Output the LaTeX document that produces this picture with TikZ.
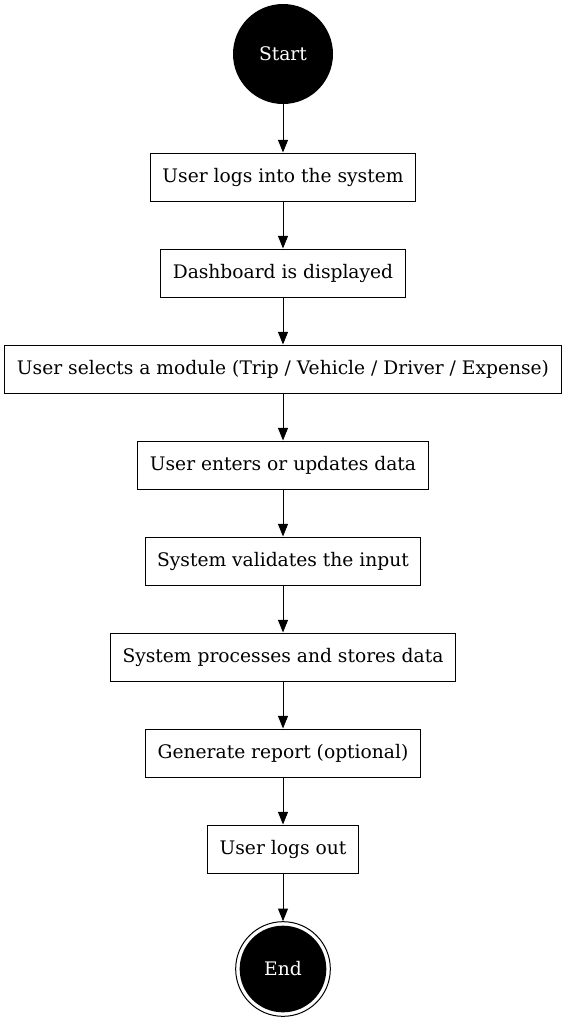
\documentclass[tikz,border=0pt]{standalone}
\usepackage{fontspec}
\setmainfont{DejaVu Serif}
\usetikzlibrary{arrows.meta}
\begin{document}
\begin{tikzpicture}[x=0.75pt, y=-0.75pt, >={Triangle[length=9.5pt,width=7.5pt]},
  stepbox/.style={draw, line width=0.75pt, minimum height=36pt, inner xsep=9pt,
    font=\fontsize{14}{16}\selectfont},
  terminal/.style={circle, fill=black, text=white, inner sep=0pt,
    font=\fontsize{14}{16}\selectfont}]
  \useasboundingbox (0,0) rectangle (567,1022);
  % Start and the steps.
  \node[terminal, minimum size=75pt] (start) at (283,54) {Start};
  \node[stepbox] (login) at (283,177) {User logs into the system};
  \node[stepbox] (dash) at (283,273) {Dashboard is displayed};
  \node[stepbox] (module) at (283,369) {User selects a module (Trip / Vehicle / Driver / Expense)};
  \node[stepbox] (enter) at (283,465) {User enters or updates data};
  \node[stepbox] (validate) at (283,561) {System validates the input};
  \node[stepbox] (store) at (283,657) {System processes and stores data};
  \node[stepbox] (report) at (283,753) {Generate report (optional)};
  \node[stepbox] (logout) at (283,849) {User logs out};
  % End, a ring round a filled disc.
  \node[circle, draw, line width=0.75pt, minimum size=71pt, inner sep=0pt] (endring) at (283,969) {};
  \node[terminal, minimum size=65pt] (end) at (endring.center) {End};
  % Flow.
  \foreach \a/\b in {start/login, login/dash, dash/module, module/enter,
    enter/validate, validate/store, store/report, report/logout, logout/endring}
    \draw[->, line width=0.75pt] (\a) -- (\b);
\end{tikzpicture}
\end{document}
